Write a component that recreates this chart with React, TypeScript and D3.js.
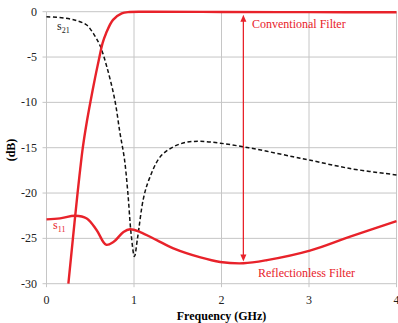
import React, { useEffect, useRef } from 'react'
import * as d3 from 'd3'

// Frequency in GHz, magnitude in dB
const conventionalS11: [number, number][] = [
  [0.25, -30], [0.302, -25], [0.355, -20], [0.385, -17.4], [0.415, -15],
  [0.46, -12.2], [0.505, -9.8], [0.555, -7.3], [0.605, -5], [0.64, -3.5],
  [0.68, -2.4], [0.76, -0.9], [0.86, -0.18], [0.95, -0.03], [1.2, -0.01],
  [2.0, -0.03], [3.0, -0.05], [4.0, -0.06]
]

const s21: [number, number][] = [
  [0, -0.55], [0.2, -0.7], [0.35, -1.0], [0.46, -1.47], [0.535, -2.4],
  [0.61, -3.7], [0.69, -6.1], [0.78, -9.7], [0.84, -13.4], [0.89, -16.2],
  [0.93, -20], [0.967, -24.5], [1.005, -27.0], [1.04, -25], [1.11, -20.5],
  [1.18, -18.3], [1.3, -16], [1.45, -14.9], [1.6, -14.4], [1.76, -14.3],
  [1.985, -14.5], [2.25, -14.9], [2.52, -15.4], [2.82, -16.0], [3.0, -16.35],
  [3.47, -17.3], [4.0, -18.0]
]

const reflectionlessS11: [number, number][] = [
  [0, -22.9], [0.155, -22.8], [0.326, -22.5], [0.46, -22.8], [0.574, -24.1],
  [0.68, -25.7], [0.764, -25.4], [0.88, -24.3], [0.955, -24.0], [1.07, -24.3],
  [1.26, -25.2], [1.45, -26.1], [1.76, -27.1], [1.985, -27.6], [2.25, -27.75],
  [2.52, -27.4], [3.01, -26.35], [3.47, -24.8], [4.0, -23.1]
]

const xTicks = [0, 1, 2, 3, 4]
const yTicks = [0, -5, -10, -15, -20, -25, -30]

// double arrow between the two filters' stopband reflection
const arrowFreq = 2.25
const arrowTop = -0.35
const arrowBottom = -27.55

const RED = '#e8222a'
const GRID = '#c6c6c6'
const FONT = '"Liberation Serif", "Times New Roman", serif'

const App = () => {
  const svgRef = useRef<SVGSVGElement>(null)
  const width = 398
  const height = 323

  useEffect(() => {
    if (!svgRef.current) return
    const svg = d3.select(svgRef.current)
    svg.selectAll('*').remove()

    const x = d3.scaleLinear().domain([0, 4]).range([46.5, 396.5])
    const y = d3.scaleLinear().domain([-30, 0]).range([283.7, 11.7])

    // gridlines
    svg.append('g').selectAll('line').data(yTicks).join('line')
      .attr('x1', x(0)).attr('x2', x(4))
      .attr('y1', d => y(d)).attr('y2', d => y(d))
      .attr('stroke', GRID).attr('stroke-width', 1)

    svg.append('g').selectAll('line').data(xTicks).join('line')
      .attr('x1', d => x(d)).attr('x2', d => x(d))
      .attr('y1', y(0)).attr('y2', y(-30) + 3.5)
      .attr('stroke', GRID).attr('stroke-width', 1)

    // small outward ticks on the left axis
    svg.append('g').selectAll('line').data(yTicks).join('line')
      .attr('x1', x(0) - 4).attr('x2', x(0))
      .attr('y1', d => y(d)).attr('y2', d => y(d))
      .attr('stroke', GRID).attr('stroke-width', 1)

    // tick labels
    svg.append('g').selectAll('text').data(yTicks).join('text')
      .attr('x', 37).attr('y', d => y(d) + 4)
      .attr('text-anchor', 'end')
      .style('font-family', FONT).style('font-size', '12px').style('fill', '#222')
      .text(d => String(d))

    svg.append('g').selectAll('text').data(xTicks).join('text')
      .attr('x', d => x(d)).attr('y', 303.5)
      .attr('text-anchor', 'middle')
      .style('font-family', FONT).style('font-size', '12px').style('fill', '#222')
      .text(d => String(d))

    // axis titles
    svg.append('text')
      .attr('x', (x(0) + x(4)) / 2).attr('y', 320)
      .attr('text-anchor', 'middle')
      .style('font-family', FONT).style('font-size', '12px').style('font-weight', 'bold')
      .text('Frequency (GHz)')

    svg.append('text')
      .attr('transform', 'translate(15,150) rotate(-90)')
      .attr('text-anchor', 'middle')
      .style('font-family', FONT).style('font-size', '12px').style('font-weight', 'bold')
      .text('(dB)')

    const line = d3.line<[number, number]>()
      .x(d => x(d[0])).y(d => y(d[1]))
      .curve(d3.curveCatmullRom.alpha(0.5))

    svg.append('path').datum(s21)
      .attr('d', line)
      .attr('fill', 'none').attr('stroke', '#111')
      .attr('stroke-width', 1.5).attr('stroke-dasharray', '4,2.5')

    svg.append('path').datum(reflectionlessS11)
      .attr('d', line)
      .attr('fill', 'none').attr('stroke', RED).attr('stroke-width', 2.4)

    svg.append('path').datum(conventionalS11)
      .attr('d', line)
      .attr('fill', 'none').attr('stroke', RED).attr('stroke-width', 2.4)

    // arrow
    const ax = x(arrowFreq)
    const aTop = y(arrowTop)
    const aBot = y(arrowBottom)
    svg.append('line')
      .attr('x1', ax).attr('x2', ax)
      .attr('y1', aTop + 5).attr('y2', aBot - 5)
      .attr('stroke', RED).attr('stroke-width', 1.3)
    svg.append('path')
      .attr('d', `M${ax},${aTop} L${ax - 3},${aTop + 7} L${ax + 3},${aTop + 7} Z`)
      .attr('fill', RED)
    svg.append('path')
      .attr('d', `M${ax},${aBot} L${ax - 3},${aBot - 7} L${ax + 3},${aBot - 7} Z`)
      .attr('fill', RED)

    // annotations
    svg.append('text')
      .attr('x', 252).attr('y', 28)
      .style('font-family', FONT).style('font-size', '12px').style('fill', RED)
      .text('Conventional Filter')

    svg.append('text')
      .attr('x', 258).attr('y', 277)
      .style('font-family', FONT).style('font-size', '12px').style('fill', RED)
      .text('Reflectionless Filter')

    const s21Label = svg.append('text')
      .attr('x', 57).attr('y', 30)
      .style('font-family', FONT).style('font-size', '12px').style('fill', '#222')
    s21Label.append('tspan').text('s')
    s21Label.append('tspan').attr('dy', 3).style('font-size', '8px').text('21')

    const s11Label = svg.append('text')
      .attr('x', 53).attr('y', 229)
      .style('font-family', FONT).style('font-size', '12px').style('fill', RED)
    s11Label.append('tspan').text('s')
    s11Label.append('tspan').attr('dy', 3).style('font-size', '8px').text('11')
  }, [])

  return (
    <svg
      ref={svgRef}
      width={width}
      height={height}
      style={{ position: 'fixed', left: 0, top: 0, background: '#fff' }}
    />
  )
}

export default App
